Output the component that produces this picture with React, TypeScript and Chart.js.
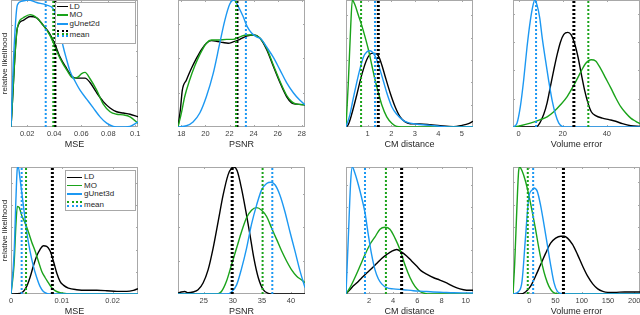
import React, { useEffect, useRef } from 'react';
import { Chart, registerables } from 'chart.js';

Chart.register(...registerables);

const C_LD = '#000000';
const C_MO = '#1aa31a';
const C_GU = '#1c98f2';
const BOX_COLOR = '#a8a8a8';
const FONT = "'Liberation Sans', Arial, Helvetica, sans-serif";

// ---------- Panel 1: MSE (2D) ----------
const mse2d_range = [0.008, 0.102];
const mse2d_ticks = [0.02, 0.04, 0.06, 0.08, 0.1];
const mse2d_tickLabels = ['0.02', '0.04', '0.06', '0.08', '0.1'];
const mse2d_LD_x = [0.008, 0.0127, 0.0171, 0.0221, 0.027, 0.0319, 0.0369, 0.0406, 0.0443, 0.0492, 0.0529, 0.0566, 0.0591, 0.0628, 0.0665, 0.0714, 0.0763, 0.0813, 0.0862, 0.0911, 0.0961, 0.102];
const mse2d_LD_y = [0, 0.78, 0.84, 0.87, 0.86, 0.8, 0.73, 0.65, 0.55, 0.46, 0.4, 0.385, 0.385, 0.385, 0.35, 0.27, 0.2, 0.15, 0.12, 0.11, 0.1, 0.08];
const mse2d_MO_x = [0.008, 0.0127, 0.0171, 0.0221, 0.027, 0.0319, 0.0369, 0.0406, 0.0443, 0.0492, 0.0541, 0.0571, 0.0603, 0.0628, 0.0665, 0.0714, 0.0763, 0.0813, 0.0862, 0.0911, 0.0961, 0.102];
const mse2d_MO_y = [0, 0.78, 0.86, 0.885, 0.86, 0.8, 0.72, 0.63, 0.54, 0.45, 0.385, 0.39, 0.42, 0.43, 0.38, 0.29, 0.18, 0.12, 0.1, 0.095, 0.08, 0.03];
const mse2d_GU_x = [0.008, 0.0097, 0.0127, 0.0159, 0.0208, 0.027, 0.0344, 0.0393, 0.0418, 0.0443, 0.0467, 0.0492, 0.0517, 0.0554, 0.0591, 0.064, 0.0689, 0.0739, 0.0788, 0.0837, 0.0887, 0.0961, 0.102];
const mse2d_GU_y = [0, 0.5, 0.96, 0.99, 1.0, 0.98, 0.96, 0.93, 0.86, 0.75, 0.63, 0.53, 0.44, 0.36, 0.29, 0.22, 0.15, 0.08, 0.03, 0.005, 0, 0.005, 0.04];
const mse2d_means = [0.0405, 0.0393, 0.0337];
const mse2d_yTicks = [0.2, 0.4, 0.6, 0.8];

// ---------- Panel 2: PSNR (2D) ----------
const psnr2d_range = [17.72, 28.27];
const psnr2d_ticks = [18, 20, 22, 24, 26, 28];
const psnr2d_tickLabels = ['18', '20', '22', '24', '26', '28'];
const psnr2d_LD_x = [17.72, 17.92, 18.08, 18.42, 18.83, 19.25, 19.67, 20.08, 20.5, 20.91, 21.47, 21.89, 22.3, 22.86, 23.41, 23.97, 24.52, 25.08, 25.63, 26.19, 26.74, 27.16, 27.58, 28.27];
const psnr2d_LD_y = [0, 0.14, 0.29, 0.37, 0.46, 0.54, 0.61, 0.66, 0.68, 0.675, 0.665, 0.66, 0.67, 0.69, 0.715, 0.725, 0.7, 0.61, 0.48, 0.35, 0.24, 0.19, 0.18, 0.175];
const psnr2d_MO_x = [17.72, 18.0, 18.28, 18.69, 19.11, 19.53, 20.08, 20.5, 21.05, 21.75, 22.3, 22.86, 23.41, 23.97, 24.52, 25.08, 25.63, 26.19, 26.74, 27.16, 27.58, 28.27];
const psnr2d_MO_y = [0, 0.11, 0.24, 0.37, 0.48, 0.57, 0.66, 0.685, 0.685, 0.69, 0.69, 0.71, 0.725, 0.725, 0.7, 0.62, 0.49, 0.36, 0.25, 0.2, 0.18, 0.175];
const psnr2d_GU_x = [17.72, 18.42, 18.97, 19.53, 20.08, 20.64, 21.19, 21.61, 22.03, 22.36, 22.72, 23.13, 23.47, 23.83, 24.25, 24.66, 25.08, 25.63, 26.19, 26.74, 27.3, 27.85, 28.27];
const psnr2d_GU_y = [0, 0.01, 0.04, 0.11, 0.24, 0.42, 0.66, 0.84, 0.97, 1.0, 0.95, 0.87, 0.79, 0.74, 0.71, 0.69, 0.63, 0.55, 0.45, 0.35, 0.27, 0.21, 0.175];
const psnr2d_means = [22.62, 22.55, 23.36];
const psnr2d_yTicks = [0.27, 0.54, 0.81];

// ---------- Panel 3: CM distance (2D) ----------
const cm2d_range = [0.08, 5.47];
const cm2d_ticks = [1, 2, 3, 4, 5];
const cm2d_tickLabels = ['1', '2', '3', '4', '5'];
const cm2d_LD_x = [0.08, 0.179, 0.321, 0.534, 0.747, 0.959, 1.172, 1.314, 1.455, 1.597, 1.739, 1.952, 2.164, 2.377, 2.59, 2.803, 3.228, 3.653, 4.079, 4.646, 5.0, 5.28, 5.47];
const cm2d_LD_y = [0, 0.02, 0.1, 0.25, 0.41, 0.53, 0.58, 0.58, 0.56, 0.49, 0.4, 0.27, 0.16, 0.08, 0.04, 0.026, 0.024, 0.018, 0.01, 0.003, 0.013, 0.026, 0.045];
const cm2d_MO_x = [0.08, 0.179, 0.279, 0.349, 0.463, 0.605, 0.747, 0.888, 1.03, 1.172, 1.314, 1.455, 1.597, 1.81, 2.023, 2.235, 2.661, 5.47];
const cm2d_MO_y = [0, 0.35, 0.79, 1.0, 0.96, 0.88, 0.8, 0.71, 0.61, 0.49, 0.37, 0.27, 0.175, 0.08, 0.03, 0.005, 0, 0];
const cm2d_GU_x = [0.08, 0.25, 0.392, 0.534, 0.676, 0.817, 0.959, 1.101, 1.243, 1.385, 1.526, 1.668, 1.81, 2.023, 2.235, 2.519, 2.803, 3.228, 3.653, 4.079, 4.646, 5.47];
const cm2d_GU_y = [0, 0.1, 0.23, 0.35, 0.46, 0.55, 0.59, 0.6, 0.58, 0.53, 0.45, 0.36, 0.27, 0.16, 0.1, 0.05, 0.03, 0.02, 0.013, 0.005, 0, 0];
const cm2d_means = [1.45, 0.72, 1.31];
const cm2d_yTicks = [0.176, 0.352, 0.528, 0.704, 0.88];

// ---------- Panel 4: Volume error (2D) ----------
const vol2d_range = [-2.5, 55];
const vol2d_ticks = [0, 20, 40];
const vol2d_tickLabels = ['0', '20', '40'];
const vol2d_LD_x = [-2.5, 6.5, 8.39, 11.42, 12.94, 14.45, 15.97, 17.48, 19.0, 20.51, 22.33, 23.85, 25.36, 26.88, 28.39, 29.91, 31.42, 32.94, 34.91, 37.94, 40.97, 44.0, 47.03, 50.81, 55];
const vol2d_LD_y = [0, 0, 0.005, 0.1, 0.19, 0.32, 0.45, 0.57, 0.67, 0.73, 0.745, 0.725, 0.66, 0.555, 0.42, 0.29, 0.19, 0.12, 0.09, 0.07, 0.058, 0.045, 0.026, 0.01, 0.005];
const vol2d_MO_x = [-2.5, 0.82, 5.36, 9.91, 12.94, 15.97, 19.0, 22.03, 25.06, 28.39, 30.36, 32.94, 34.91, 37.18, 39.45, 41.72, 44.0, 46.27, 48.54, 50.81, 53.09, 55];
const vol2d_MO_y = [0, 0.01, 0.03, 0.058, 0.08, 0.12, 0.175, 0.24, 0.33, 0.44, 0.5, 0.53, 0.52, 0.46, 0.385, 0.31, 0.23, 0.16, 0.11, 0.07, 0.045, 0.026];
const vol2d_GU_x = [-2.5, -0.7, 0.82, 2.33, 3.85, 5.36, 6.58, 7.33, 8.39, 9.6, 10.67, 12.18, 13.7, 15.21, 16.73, 18.24, 19.76, 22.03, 55];
const vol2d_GU_y = [0, 0.03, 0.16, 0.37, 0.63, 0.84, 0.96, 1.0, 0.96, 0.86, 0.71, 0.53, 0.36, 0.21, 0.1, 0.03, 0.005, 0, 0];
const vol2d_means = [25.06, 31.6, 7.94];
const vol2d_yTicks = [0.223, 0.446, 0.669, 0.892];

// ---------- Panel 5: MSE (3D) ----------
const mse3d_range = [0, 0.025];
const mse3d_ticks = [0, 0.01, 0.02];
const mse3d_tickLabels = ['0', '0.01', '0.02'];
const mse3d_LD_x = [0, 0.00177, 0.00243, 0.00309, 0.00374, 0.0044, 0.00506, 0.00571, 0.00637, 0.00703, 0.00768, 0.00834, 0.009, 0.00965, 0.01031, 0.01129, 0.01293, 0.01491, 0.01688, 0.01885, 0.02082, 0.02279, 0.0241, 0.025];
const mse3d_LD_y = [0, 0.005, 0.02, 0.06, 0.13, 0.22, 0.3, 0.35, 0.38, 0.375, 0.34, 0.26, 0.165, 0.1, 0.07, 0.047, 0.034, 0.029, 0.029, 0.026, 0.021, 0.021, 0.029, 0.042];
const mse3d_MO_x = [0, 0.0006, 0.001, 0.00125, 0.00164, 0.0021, 0.00276, 0.00341, 0.00407, 0.00473, 0.00538, 0.00604, 0.0067, 0.00735, 0.00801, 0.00867, 0.00965, 0.01097, 0.025];
const mse3d_MO_y = [0, 0.23, 0.57, 0.69, 0.68, 0.62, 0.56, 0.49, 0.41, 0.34, 0.26, 0.18, 0.13, 0.09, 0.05, 0.026, 0.01, 0.003, 0];
const mse3d_GU_x = [0, 0.0006, 0.001, 0.00125, 0.00144, 0.00177, 0.00243, 0.00309, 0.00374, 0.0044, 0.00506, 0.00571, 0.00637, 0.00703, 0.00768, 0.025];
const mse3d_GU_y = [0, 0.31, 0.78, 0.99, 1.0, 0.91, 0.7, 0.49, 0.34, 0.22, 0.13, 0.06, 0.02, 0.005, 0, 0];
const mse3d_means = [0.00814, 0.00296, 0.0021];
const mse3d_yTicks = [0.175, 0.35, 0.525, 0.7, 0.875];

// ---------- Panel 6: PSNR (3D) ----------
const psnr3d_range = [20.57, 42.4];
const psnr3d_ticks = [25, 30, 35, 40];
const psnr3d_tickLabels = ['25', '30', '35', '40'];
const psnr3d_LD_x = [20.57, 21.15, 21.72, 22.29, 23.16, 24.02, 24.88, 25.74, 26.6, 27.47, 28.33, 29.19, 29.77, 30.17, 30.74, 31.49, 32.24, 32.93, 33.62, 34.36, 35.22, 36.09, 36.94, 42.4];
const psnr3d_LD_y = [0.008, 0.016, 0.02, 0.01, 0.016, 0.034, 0.087, 0.19, 0.36, 0.57, 0.78, 0.94, 0.99, 1.0, 0.97, 0.83, 0.65, 0.47, 0.28, 0.13, 0.034, 0.005, 0, 0];
const psnr3d_MO_x = [20.57, 27.18, 28.04, 28.9, 29.77, 30.63, 31.49, 32.35, 33.21, 34.08, 34.94, 35.8, 36.65, 37.52, 38.37, 39.23, 40.1, 40.97, 41.84, 42.4];
const psnr3d_MO_y = [0, 0, 0.02, 0.1, 0.23, 0.36, 0.49, 0.6, 0.66, 0.68, 0.66, 0.61, 0.52, 0.43, 0.34, 0.26, 0.19, 0.14, 0.11, 0.09];
const psnr3d_GU_x = [20.57, 28.9, 29.77, 30.63, 31.49, 32.35, 33.21, 34.08, 34.94, 35.8, 36.54, 37.24, 38.08, 38.94, 39.81, 40.67, 41.55, 42.4];
const psnr3d_GU_y = [0, 0, 0.016, 0.07, 0.2, 0.36, 0.55, 0.7, 0.82, 0.87, 0.88, 0.86, 0.78, 0.65, 0.49, 0.34, 0.18, 0.05];
const psnr3d_means = [29.88, 35.11, 36.78];
const psnr3d_yTicks = [0.263, 0.526, 0.789];

// ---------- Panel 7: CM distance (3D) ----------
const cm3d_range = [0.1, 10.6];
const cm3d_ticks = [2, 4, 6, 8, 10];
const cm3d_tickLabels = ['2', '4', '6', '8', '10'];
const cm3d_LD_x = [0.1, 0.57, 0.98, 1.39, 1.81, 2.22, 2.63, 3.05, 3.46, 3.87, 4.29, 4.7, 5.11, 5.52, 5.94, 6.35, 6.76, 7.31, 7.86, 8.42, 8.97, 9.52, 10.07, 10.6];
const cm3d_LD_y = [0, 0.05, 0.087, 0.126, 0.165, 0.2, 0.24, 0.28, 0.31, 0.336, 0.35, 0.33, 0.3, 0.26, 0.22, 0.18, 0.157, 0.13, 0.11, 0.087, 0.06, 0.04, 0.03, 0.029];
const cm3d_MO_x = [0.1, 0.43, 0.84, 1.26, 1.67, 2.08, 2.5, 2.91, 3.32, 3.73, 4.15, 4.56, 4.97, 5.39, 5.8, 6.21, 6.63, 7.04, 10.6];
const cm3d_MO_y = [0, 0.05, 0.13, 0.22, 0.31, 0.39, 0.45, 0.51, 0.525, 0.51, 0.44, 0.35, 0.23, 0.13, 0.06, 0.02, 0.005, 0, 0];
const cm3d_GU_x = [0.1, 0.29, 0.49, 0.62, 0.84, 1.12, 1.39, 1.67, 1.94, 2.22, 2.5, 2.77, 3.05, 3.46, 4.01, 4.84, 5.66, 6.49, 7.31, 8.14, 8.97, 10.6];
const cm3d_GU_y = [0, 0.44, 0.89, 1.0, 0.95, 0.86, 0.76, 0.64, 0.47, 0.31, 0.19, 0.12, 0.08, 0.05, 0.04, 0.034, 0.026, 0.021, 0.016, 0.013, 0.01, 0.008];
const cm3d_means = [4.7, 3.4, 1.67];
const cm3d_yTicks = [0.172, 0.344, 0.516, 0.688, 0.86];

// ---------- Panel 8: Volume error (3D) ----------
const vol3d_range = [-31, 211];
const vol3d_ticks = [0, 50, 100, 150, 200];
const vol3d_tickLabels = ['0', '50', '100', '150', '200'];
const vol3d_LD_x = [-31, -17, -7.3, 2.3, 11.9, 21.5, 31.1, 40.7, 50.3, 60.0, 66.4, 72.8, 82.4, 92.0, 101.6, 111.2, 120.9, 130.5, 140.1, 149.7, 162.5, 181.7, 200.9, 211];
const vol3d_LD_y = [0, 0, 0.016, 0.06, 0.14, 0.23, 0.32, 0.4, 0.44, 0.455, 0.455, 0.44, 0.39, 0.31, 0.22, 0.14, 0.08, 0.04, 0.02, 0.013, 0.013, 0.016, 0.016, 0.016];
const vol3d_MO_x = [-31, -27.9, -23.4, -20.2, -18.2, -13.8, -7.3, -0.9, 5.5, 11.9, 18.3, 24.7, 31.1, 37.5, 43.9, 50.3, 60.0, 211];
const vol3d_MO_y = [0, 0.23, 0.7, 0.97, 1.0, 0.97, 0.89, 0.78, 0.65, 0.51, 0.36, 0.23, 0.13, 0.06, 0.02, 0.005, 0, 0];
const vol3d_GU_x = [-31, -20.2, -13.8, -7.3, -0.9, 5.5, 8.7, 15.1, 21.5, 27.9, 34.3, 40.7, 47.1, 53.5, 60.0, 72.8, 211];
const vol3d_GU_y = [0, 0.02, 0.1, 0.44, 0.76, 0.82, 0.835, 0.81, 0.7, 0.55, 0.39, 0.23, 0.09, 0.02, 0.005, 0, 0];
const vol3d_means = [65.1, -2.86, 7.4];
const vol3d_yTicks = [0.176, 0.352, 0.528, 0.704, 0.88];

// ---------- Legends ----------
const legend2dLabels = ['LD', 'MO', 'gUnet2d', 'mean'];
const legend3dLabels = ['LD', 'MO', 'gUnet3d', 'mean'];

// ---------- Layout ----------
const COL_LEFT = [11, 178, 346, 513];
const ROW_TOP = [0, 167];
const BOX = 127;
const PAD_L = 11;
const PAD_R = 8;
const PAD_T = 4;
const PAD_B = 24;
const TICK_LEN = 2;

type Series = { x: number[]; y: number[]; color: string; width: number };
type Panel = {
  id: string;
  col: number;
  row: number;
  range: number[];
  ticks: number[];
  tickLabels: string[];
  xLabel: string;
  yTicks: number[];
  means: number[];
  series: Series[];
  yLabel: boolean;
};

const mk = (x: number[], y: number[], color: string): Series => ({ x, y, color, width: 1.4 });

const PANELS: Panel[] = [
  { id: 'p1', col: 0, row: 0, range: mse2d_range, ticks: mse2d_ticks, tickLabels: mse2d_tickLabels, xLabel: 'MSE', yTicks: mse2d_yTicks, means: mse2d_means, yLabel: true,
    series: [mk(mse2d_LD_x, mse2d_LD_y, C_LD), mk(mse2d_MO_x, mse2d_MO_y, C_MO), mk(mse2d_GU_x, mse2d_GU_y, C_GU)] },
  { id: 'p2', col: 1, row: 0, range: psnr2d_range, ticks: psnr2d_ticks, tickLabels: psnr2d_tickLabels, xLabel: 'PSNR', yTicks: psnr2d_yTicks, means: psnr2d_means, yLabel: false,
    series: [mk(psnr2d_LD_x, psnr2d_LD_y, C_LD), mk(psnr2d_MO_x, psnr2d_MO_y, C_MO), mk(psnr2d_GU_x, psnr2d_GU_y, C_GU)] },
  { id: 'p3', col: 2, row: 0, range: cm2d_range, ticks: cm2d_ticks, tickLabels: cm2d_tickLabels, xLabel: 'CM distance', yTicks: cm2d_yTicks, means: cm2d_means, yLabel: false,
    series: [mk(cm2d_LD_x, cm2d_LD_y, C_LD), mk(cm2d_MO_x, cm2d_MO_y, C_MO), mk(cm2d_GU_x, cm2d_GU_y, C_GU)] },
  { id: 'p4', col: 3, row: 0, range: vol2d_range, ticks: vol2d_ticks, tickLabels: vol2d_tickLabels, xLabel: 'Volume error', yTicks: vol2d_yTicks, means: vol2d_means, yLabel: false,
    series: [mk(vol2d_LD_x, vol2d_LD_y, C_LD), mk(vol2d_MO_x, vol2d_MO_y, C_MO), mk(vol2d_GU_x, vol2d_GU_y, C_GU)] },
  { id: 'p5', col: 0, row: 1, range: mse3d_range, ticks: mse3d_ticks, tickLabels: mse3d_tickLabels, xLabel: 'MSE', yTicks: mse3d_yTicks, means: mse3d_means, yLabel: true,
    series: [mk(mse3d_LD_x, mse3d_LD_y, C_LD), mk(mse3d_MO_x, mse3d_MO_y, C_MO), mk(mse3d_GU_x, mse3d_GU_y, C_GU)] },
  { id: 'p6', col: 1, row: 1, range: psnr3d_range, ticks: psnr3d_ticks, tickLabels: psnr3d_tickLabels, xLabel: 'PSNR', yTicks: psnr3d_yTicks, means: psnr3d_means, yLabel: false,
    series: [mk(psnr3d_LD_x, psnr3d_LD_y, C_LD), mk(psnr3d_MO_x, psnr3d_MO_y, C_MO), mk(psnr3d_GU_x, psnr3d_GU_y, C_GU)] },
  { id: 'p7', col: 2, row: 1, range: cm3d_range, ticks: cm3d_ticks, tickLabels: cm3d_tickLabels, xLabel: 'CM distance', yTicks: cm3d_yTicks, means: cm3d_means, yLabel: false,
    series: [mk(cm3d_LD_x, cm3d_LD_y, C_LD), mk(cm3d_MO_x, cm3d_MO_y, C_MO), mk(cm3d_GU_x, cm3d_GU_y, C_GU)] },
  { id: 'p8', col: 3, row: 1, range: vol3d_range, ticks: vol3d_ticks, tickLabels: vol3d_tickLabels, xLabel: 'Volume error', yTicks: vol3d_yTicks, means: vol3d_means, yLabel: false,
    series: [mk(vol3d_LD_x, vol3d_LD_y, C_LD), mk(vol3d_MO_x, vol3d_MO_y, C_MO), mk(vol3d_GU_x, vol3d_GU_y, C_GU)] },
];

const MEAN_COLORS = [C_LD, C_MO, C_GU];
const MEAN_WIDTHS = [3, 2, 2];

function PanelChart({ p }: { p: Panel }) {
  const ref = useRef<HTMLCanvasElement | null>(null);
  const w = PAD_L + BOX + PAD_R;
  const h = PAD_T + BOX + PAD_B;
  useEffect(() => {
    if (!ref.current) return;
    const boxPlugin = {
      id: 'matlabBox',
      beforeDatasetsDraw(chart: any) {
        const { ctx, chartArea: a, scales } = chart;
        ctx.save();
        ctx.strokeStyle = BOX_COLOR;
        ctx.lineWidth = 1;
        ctx.strokeRect(a.left + 0.5, a.top + 0.5, a.right - a.left - 1, a.bottom - a.top - 1);
        ctx.beginPath();
        for (const v of p.ticks) {
          const x = Math.round(scales.x.getPixelForValue(v)) + 0.5;
          ctx.moveTo(x, a.bottom); ctx.lineTo(x, a.bottom - TICK_LEN);
          ctx.moveTo(x, a.top); ctx.lineTo(x, a.top + TICK_LEN);
        }
        for (const v of p.yTicks) {
          const y = Math.round(scales.y.getPixelForValue(v)) + 0.5;
          ctx.moveTo(a.left, y); ctx.lineTo(a.left + TICK_LEN, y);
          ctx.moveTo(a.right, y); ctx.lineTo(a.right - TICK_LEN, y);
        }
        ctx.stroke();
        ctx.restore();
      },
    };
    const meanSets = [2, 1, 0].map((i) => ({
      data: [{ x: p.means[i], y: 0 }, { x: p.means[i], y: 1 }],
      borderColor: MEAN_COLORS[i],
      borderWidth: MEAN_WIDTHS[i],
      borderDash: [2, 2],
      borderCapStyle: 'butt',
      pointRadius: 0,
      fill: false,
    }));
    const curveSets = [2, 1, 0].map((i) => {
      const s = p.series[i];
      return {
        data: s.x.map((x, k) => ({ x, y: s.y[k] })),
        borderColor: s.color,
        borderWidth: s.width,
        pointRadius: 0,
        fill: false,
        cubicInterpolationMode: 'monotone',
      };
    });
    const chart = new Chart(ref.current, {
      type: 'line',
      data: { datasets: [...meanSets, ...curveSets] as any },
      options: {
        animation: false,
        responsive: false,
        devicePixelRatio: 1,
        events: [],
        layout: { padding: { top: PAD_T, right: PAD_R, left: 0, bottom: 0 } },
        plugins: { legend: { display: false }, tooltip: { enabled: false } },
        scales: {
          x: {
            type: 'linear',
            min: p.range[0],
            max: p.range[1],
            grid: { display: false, drawTicks: false },
            border: { display: false },
            afterBuildTicks: (s: any) => { s.ticks = p.ticks.map((v) => ({ value: v })); },
            afterFit: (s: any) => { s.height = PAD_B; },
            ticks: {
              autoSkip: false,
              maxRotation: 0,
              minRotation: 0,
              padding: 2.5,
              color: '#404040',
              font: { family: FONT, size: 7.5 },
              callback: (_v: any, i: number) => p.tickLabels[i],
            },
            title: { display: true, text: p.xLabel, color: '#262626', font: { family: FONT, size: 9 }, padding: { top: 0, bottom: 1.1 } },
          },
          y: {
            type: 'linear',
            min: 0,
            max: 1,
            grid: { display: false, drawTicks: false },
            border: { display: false },
            ticks: { display: false },
            afterFit: (s: any) => { s.width = PAD_L; },
            title: { display: p.yLabel, text: 'relative likelihood', color: '#262626', font: { family: FONT, size: 8 }, padding: 0 },
          },
        },
      } as any,
      plugins: [boxPlugin],
    });
    return () => chart.destroy();
  }, []);
  return (
    <canvas
      ref={ref}
      width={w}
      height={h}
      style={{ position: 'absolute', left: COL_LEFT[p.col] - PAD_L, top: ROW_TOP[p.row] - PAD_T, width: w, height: h }}
    />
  );
}

type LegendLayout = {
  left: number; top: number; width: number; height: number;
  lineX: number; lineW: number; textX: number;
  rowsY: number[];
  meanLines: { y: number; color: string; w: number }[];
};

const LEGEND_2D: LegendLayout = {
  left: 55, top: 2, width: 80, height: 41,
  lineX: 57, lineW: 11, textX: 69.5,
  rowsY: [6.7, 15.2, 23.8, 34.5],
  meanLines: [{ y: 31.5, color: C_LD, w: 2.5 }, { y: 34, color: C_MO, w: 2 }, { y: 36.3, color: C_GU, w: 2 }],
};
const LEGEND_3D: LegendLayout = {
  left: 65, top: 170, width: 70, height: 40,
  lineX: 66.7, lineW: 15, textX: 84,
  rowsY: [177.3, 185.7, 194, 204.6],
  meanLines: [{ y: 202.3, color: C_MO, w: 2 }, { y: 205.5, color: C_GU, w: 2 }],
};

function Legend({ lay, labels }: { lay: LegendLayout; labels: string[] }) {
  const cols = [C_LD, C_MO, C_GU];
  return (
    <>
      <div style={{ position: 'absolute', left: lay.left, top: lay.top, width: lay.width - 1, height: lay.height - 1, border: `1px solid ${BOX_COLOR}`, background: '#fff' }} />
      {labels.map((lab, i) => (
        <div key={lab} style={{ position: 'absolute', left: lay.textX, top: lay.rowsY[i] - 5, height: 10, lineHeight: '10px', fontSize: 8, color: '#262626', fontFamily: FONT, whiteSpace: 'nowrap' }}>{lab}</div>
      ))}
      {cols.map((c, i) => (
        <div key={c} style={{ position: 'absolute', left: lay.lineX, top: lay.rowsY[i] - 0.75, width: lay.lineW, height: 1.5, background: c }} />
      ))}
      {lay.meanLines.map((m, i) => (
        <div key={i} style={{ position: 'absolute', left: lay.lineX, top: m.y - m.w / 2, width: lay.lineW, height: 0, borderTop: `${m.w}px dotted ${m.color}` }} />
      ))}
    </>
  );
}

export default function App() {
  return (
    <div style={{ position: 'fixed', left: 0, top: 0, width: 640, height: 315, background: '#fff', overflow: 'hidden' }}>
      {PANELS.map((p) => <PanelChart key={p.id} p={p} />)}
      <Legend lay={LEGEND_2D} labels={legend2dLabels} />
      <Legend lay={LEGEND_3D} labels={legend3dLabels} />
    </div>
  );
}
